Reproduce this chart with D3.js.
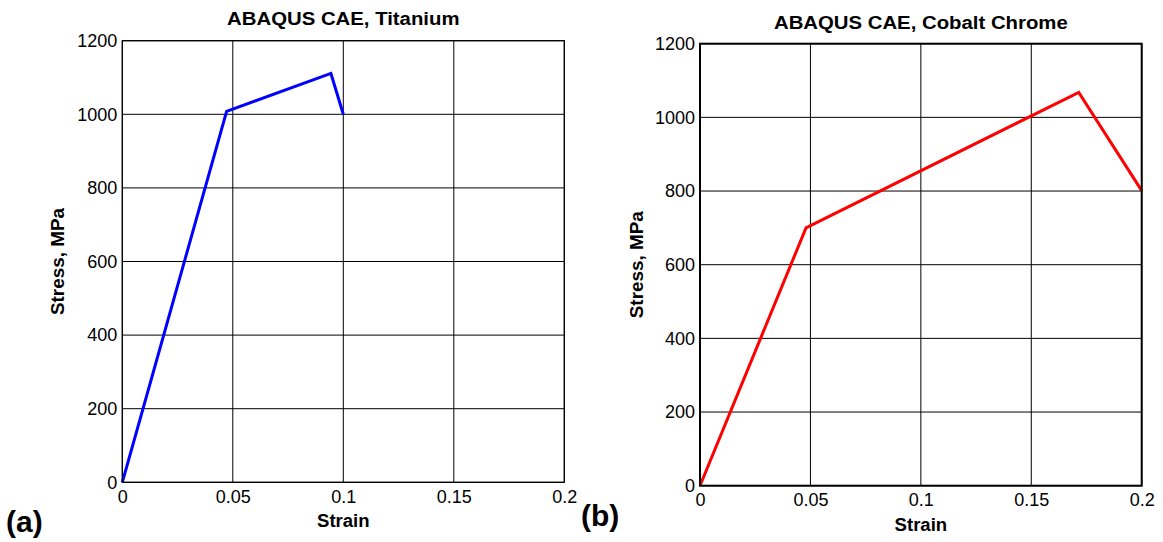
<!DOCTYPE html>
<html>
<head>
<meta charset="utf-8">
<script src="https://cdnjs.cloudflare.com/ajax/libs/d3/7.8.5/d3.min.js"></script>
<style>
  body { margin: 0; background: #fff; }
  svg text { font-family: Arial, "Liberation Sans", Helvetica, sans-serif; fill: #000; }
  .tick line { display: none; }
  .domain { display: none; }
</style>
</head>
<body>
<div id="graf"></div>
<script>
// I. Datos
strainTicks = [0, 0.05, 0.1, 0.15, 0.2]
stressTicks = [0, 200, 400, 600, 800, 1000, 1200]

titaniumStrain = [0, 0.0472, 0.0944, 0.1]
titaniumStress = [0, 1008, 1111, 1000]

cobaltStrain = [0, 0.048, 0.1715, 0.2]
cobaltStress = [0, 700, 1068, 801]

// II. Configuración
svg = d3.select('#graf').append('svg')
        .attr('width', 1163)
        .attr('height', 542)

paneles = [
  { title: 'ABAQUS CAE, Titanium', tag: '(a)', color: '#0000ff',
    xs: titaniumStrain, ys: titaniumStress,
    left: 122.3, right: 564.3, top: 40.7, bottom: 482.3, frame: 1.2,
    titleY: 25, tagX: 6, tagY: 532, ylabX: 57.5, xlabY: 527 },
  { title: 'ABAQUS CAE, Cobalt Chrome', tag: '(b)', color: '#ff0000',
    xs: cobaltStrain, ys: cobaltStress,
    left: 700, right: 1141.7, top: 43.7, bottom: 485.7, frame: 2,
    titleY: 29, tagX: 581, tagY: 526, ylabX: 637, xlabY: 531 }
]

// III. Dibujo
function render(p) {
  x = d3.scaleLinear().domain([0, 0.2]).range([p.left, p.right])
  y = d3.scaleLinear().domain([0, 1200]).range([p.bottom, p.top])

  g = svg.append('g')

  // rejilla
  g.selectAll('.gx').data(strainTicks).enter().append('line')
    .attr('x1', d => x(d)).attr('x2', d => x(d))
    .attr('y1', p.top).attr('y2', p.bottom)
    .attr('stroke', '#000').attr('stroke-width', 1)

  g.selectAll('.gy').data(stressTicks).enter().append('line')
    .attr('x1', p.left).attr('x2', p.right)
    .attr('y1', d => y(d)).attr('y2', d => y(d))
    .attr('stroke', '#000').attr('stroke-width', 1)

  // ejes (solo etiquetas)
  ax = g.append('g')
        .attr('transform', `translate(0, ${ p.bottom })`)
        .call(d3.axisBottom(x).tickValues(strainTicks).tickFormat(d => String(d)).tickSize(0).tickPadding(8))
  ax.selectAll('text').style('font-size', '18px')

  ay = g.append('g')
        .attr('transform', `translate(${ p.left }, 0)`)
        .call(d3.axisLeft(y).tickValues(stressTicks).tickFormat(d => String(d)).tickSize(0).tickPadding(5))
  ay.selectAll('text').style('font-size', '18px')

  // línea
  pts = p.xs.map((v, i) => [v, p.ys[i]])
  g.append('path')
    .datum(pts)
    .attr('d', d3.line().x(d => x(d[0])).y(d => y(d[1])))
    .attr('fill', 'none')
    .attr('stroke', p.color)
    .attr('stroke-width', 3)
    .attr('stroke-linejoin', 'miter')

  // marco
  g.append('rect')
    .attr('x', p.left).attr('y', p.top)
    .attr('width', p.right - p.left).attr('height', p.bottom - p.top)
    .attr('fill', 'none').attr('stroke', '#000').attr('stroke-width', p.frame)

  cx = (p.left + p.right) / 2

  g.append('text')
    .attr('transform', `translate(${ cx }, ${ p.titleY }) scale(1.1, 1)`)
    .attr('text-anchor', 'middle')
    .style('font-size', '18.5px').style('font-weight', 'bold')
    .text(p.title)

  g.append('text')
    .attr('transform', `translate(${ cx }, ${ p.xlabY }) scale(1.03, 1)`)
    .attr('text-anchor', 'middle')
    .style('font-size', '18px').style('font-weight', 'bold')
    .text('Strain')

  g.append('text')
    .attr('transform', `translate(${ p.ylabX + 6 }, ${ (p.top + p.bottom) / 2 }) rotate(-90) scale(1.05, 1)`)
    .attr('text-anchor', 'middle')
    .style('font-size', '18px').style('font-weight', 'bold')
    .text('Stress, MPa')

  g.append('text')
    .attr('x', p.tagX).attr('y', p.tagY)
    .style('font-size', '30px').style('font-weight', 'bold')
    .text(p.tag)
}

paneles.forEach(render)
</script>
</body>
</html>
